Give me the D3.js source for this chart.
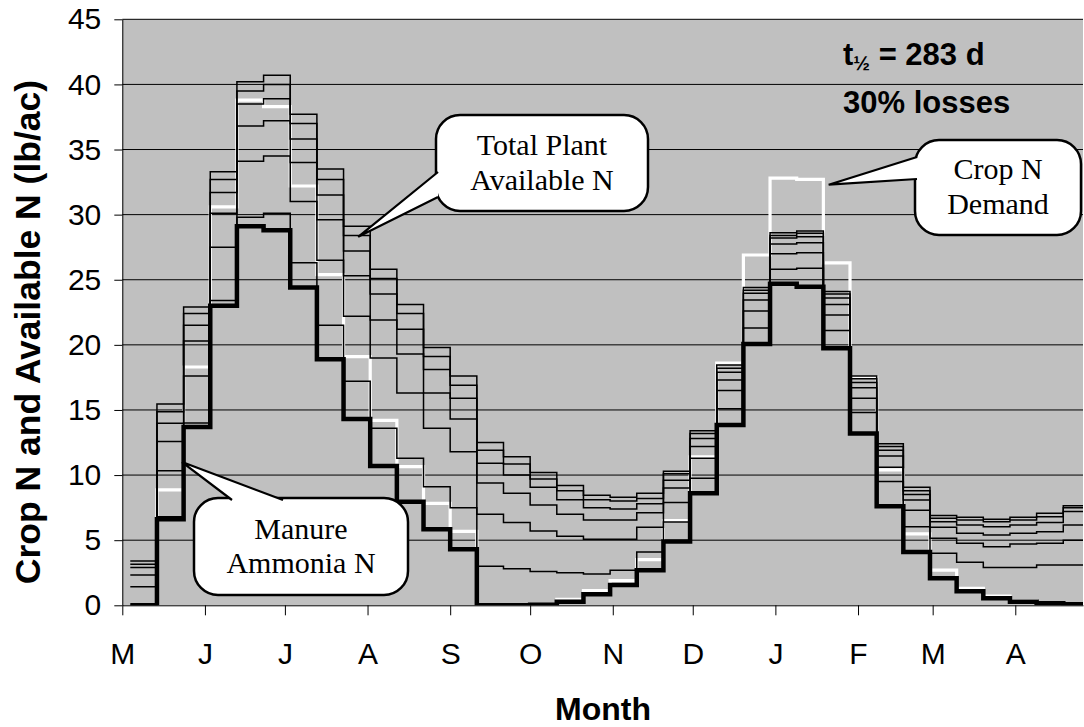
<!DOCTYPE html>
<html>
<head>
<meta charset="utf-8">
<script src="https://cdn.jsdelivr.net/npm/d3@7"></script>
<style>
  body { margin: 0; background: #fff; }
  svg { display: block; font-family: "Liberation Sans", Arial, sans-serif; }
</style>
</head>
<body>
<svg id="chart"></svg>
<script>
// step start day (days after May 1), one value per 10-day period
const stepStartDay = [3, 13, 23, 33, 43, 53, 63, 73, 83, 93, 103, 113, 123, 133, 143, 153, 163, 173,
  183, 193, 203, 213, 223, 233, 243, 253, 263, 273, 283, 293, 303, 313, 323, 333, 343, 353]
const stepEndDay = 363

const monthLabels = ['M', 'J', 'J', 'A', 'S', 'O', 'N', 'D', 'J', 'F', 'M', 'A']
const monthStartDay = [0, 31, 61, 92, 123, 153, 184, 214, 245, 276, 304, 335]
const yTicks = [0, 5, 10, 15, 20, 25, 30, 35, 40, 45]

// crop N demand (white)
const cropDemand = [0, 8.86, 18.3, 30.6, 38.8, 38.3, 32.2, 25.4, 19.1, 14.2, 10.65, 7.83, 5.68, 0, 0, 0.05,
  0.45, 1.12, 1.9, 3.5, 6.5, 11.4, 18.6, 26.9, 32.8, 32.7, 26.3, 17.5, 10.4, 5.48, 2.7, 1.3, 0.7, 0.37, 0.2, 0.1]

// manure ammonia N (thick black)
const ammoniaN = [0, 6.6, 13.7, 23.0, 29.1, 28.8, 24.4, 18.9, 14.3, 10.7, 7.96, 5.84, 4.3, 0, 0, 0.05,
  0.28, 0.85, 1.56, 2.7, 4.9, 8.6, 13.85, 20.07, 24.7, 24.47, 19.74, 13.2, 7.6, 4.1, 2.07, 1.08, 0.54, 0.28, 0.15, 0.08]

// total plant available N, one thin line per year of application
const panYear1 = [0, 6.8, 14.0, 23.4, 29.8, 30.1, 26.3, 21.5, 17.2, 13.6, 11.3, 9.1, 7.5, 3.0, 2.8, 2.6,
  2.5, 2.4, 2.7, 4.1, 6.4, 9.75, 15.1, 21.3, 25.8, 25.88, 21.1, 14.8, 9.5, 6.04, 3.99, 3.3, 2.9, 2.9, 3.1, 3.1]
const panYear2 = [1.43, 10.34, 17.6, 27.5, 34.1, 34.5, 31.0, 26.5, 22.2, 19.0, 16.3, 13.6, 11.8, 7.0, 6.35, 5.7,
  5.3, 5.07, 5.07, 6.0, 7.9, 11.3, 16.5, 22.6, 27.0, 27.08, 22.3, 15.9, 10.6, 7.3, 5.14, 4.76, 4.5, 4.7, 4.76, 5.0]
const panYear3 = [2.33, 12.57, 20.3, 30.1, 36.8, 37.2, 34.0, 29.6, 25.3, 21.9, 19.3, 16.3, 14.3, 9.4, 8.6, 7.7,
  7.0, 6.55, 6.55, 7.1, 9.0, 12.2, 17.3, 23.45, 27.75, 27.85, 23.1, 16.7, 11.47, 8.09, 5.99, 5.53, 5.4, 5.53, 5.65, 6.17]
const panYear4 = [2.9, 13.98, 21.5, 31.7, 38.5, 38.9, 35.8, 31.5, 27.2, 23.9, 21.2, 18.1, 15.9, 10.9, 10.0, 9.06,
  8.1, 7.5, 7.4, 7.8, 9.6, 12.8, 17.9, 23.96, 28.2, 28.3, 23.6, 17.1, 11.9, 8.5, 6.42, 6.17, 6.04, 6.17, 6.35, 7.2]
const panYear5 = [3.15, 14.87, 22.4, 32.7, 39.5, 40.0, 37.0, 32.7, 28.4, 25.1, 22.4, 19.1, 16.9, 11.9, 10.85, 9.7,
  8.8, 8.1, 8.0, 8.2, 10.1, 13.2, 18.2, 24.2, 28.4, 28.57, 23.9, 17.4, 12.2, 8.8, 6.68, 6.55, 6.42, 6.55, 6.8, 7.5]
const panYear6 = [3.4, 15.46, 22.9, 33.3, 40.2, 40.7, 37.7, 33.5, 29.1, 25.8, 23.1, 19.8, 17.6, 12.5, 11.4, 10.2,
  9.2, 8.45, 8.3, 8.6, 10.3, 13.4, 18.46, 24.4, 28.6, 28.75, 24.1, 17.6, 12.4, 9.06, 6.9, 6.76, 6.6, 6.76, 7.07, 7.65]

const W = 1084, H = 727
const m = { left: 122.3, right: 1083, top: 19.3, bottom: 605.3 }
const SANS = '"Liberation Sans", Arial, sans-serif'
const SERIF = '"Liberation Serif", "Times New Roman", serif'

const svg = d3.select('#chart').attr('width', W).attr('height', H)

const x = d3.scaleLinear().domain([0, 360.4]).range([m.left, m.right])
const y = d3.scaleLinear().domain([0, 45]).range([m.bottom, m.top])

// plot background
svg.append('rect')
  .attr('x', m.left).attr('y', m.top)
  .attr('width', m.right - m.left).attr('height', m.bottom - m.top)
  .attr('fill', '#c0c0c0')

// gridlines
svg.append('g')
  .selectAll('line')
  .data(yTicks.filter(d => d > 0))
  .enter().append('line')
  .attr('x1', m.left).attr('x2', m.right)
  .attr('y1', d => y(d)).attr('y2', d => y(d))
  .attr('stroke', '#000').attr('stroke-width', 1)

svg.append('clipPath').attr('id', 'plot-clip')
  .append('rect')
  .attr('x', m.left).attr('y', m.top - 5)
  .attr('width', m.right - m.left).attr('height', m.bottom - m.top + 5)

const stepLine = d3.line()
  .x(d => x(d[0]))
  .y(d => y(d[1]))
  .curve(d3.curveStepAfter)

const toPoints = vals => {
  const pts = vals.map((v, i) => [stepStartDay[i], v])
  pts.push([stepEndDay, vals[vals.length - 1]])
  return pts
}

const lines = svg.append('g').attr('clip-path', 'url(#plot-clip)')

lines.append('path')
  .datum(toPoints(cropDemand))
  .attr('d', stepLine)
  .attr('fill', 'none')
  .attr('stroke', '#fff')
  .attr('stroke-width', 3.2)

const yearSeries = [panYear1, panYear2, panYear3, panYear4, panYear5, panYear6]
lines.selectAll('.pan')
  .data(yearSeries)
  .enter().append('path')
  .attr('class', 'pan')
  .attr('d', d => stepLine(toPoints(d)))
  .attr('fill', 'none')
  .attr('stroke', '#000')
  .attr('stroke-width', 1.5)

lines.append('path')
  .datum(toPoints(ammoniaN))
  .attr('d', stepLine)
  .attr('fill', 'none')
  .attr('stroke', '#000')
  .attr('stroke-width', 4.5)

// axes
const yAxis = d3.axisLeft(y)
  .tickValues(yTicks)
  .tickSize(8)
  .tickSizeOuter(0)
  .tickPadding(13)
  .tickFormat(d3.format('d'))

const gy = svg.append('g')
  .attr('transform', `translate(${m.left},0)`)
  .call(yAxis)
gy.selectAll('text').attr('font-size', 30).style('font-family', SANS).attr('fill', '#000')
gy.selectAll('line, path').attr('stroke', '#000').attr('stroke-width', 1)

const xAxis = d3.axisBottom(x)
  .tickValues(monthStartDay)
  .tickSize(10)
  .tickSizeOuter(0)
  .tickPadding(27)
  .tickFormat((d, i) => monthLabels[i])

const gx = svg.append('g')
  .attr('transform', `translate(0,${m.bottom})`)
  .call(xAxis)
gx.selectAll('text').attr('font-size', 30).style('font-family', SANS).attr('fill', '#000')
gx.selectAll('line, path').attr('stroke', '#000').attr('stroke-width', 1)

// axis titles
svg.append('text')
  .attr('x', 603).attr('y', 720)
  .attr('text-anchor', 'middle')
  .attr('font-size', 32).attr('font-weight', 'bold')
  .text('Month')

svg.append('text')
  .attr('transform', 'translate(40,332) rotate(-90)')
  .attr('text-anchor', 'middle')
  .attr('font-size', 35.5).attr('font-weight', 'bold')
  .text('Crop N and Available N (lb/ac)')

// half-life / loss note
const note = svg.append('text')
  .attr('x', 843).attr('y', 65)
  .attr('font-size', 31).attr('font-weight', 'bold')
note.append('tspan').text('t')
note.append('tspan').attr('font-size', 20).attr('dy', 5).text('½')
note.append('tspan').attr('dy', -5).text(' = 283 d')

svg.append('text')
  .attr('x', 843).attr('y', 113)
  .attr('font-size', 31).attr('font-weight', 'bold')
  .text('30% losses')

// callouts
function callout(box, base, tip, label) {
  const g = svg.append('g')
  g.append('rect')
    .attr('x', box.x).attr('y', box.y)
    .attr('width', box.w).attr('height', box.h)
    .attr('rx', 24).attr('ry', 24)
    .attr('fill', '#fff').attr('stroke', '#000').attr('stroke-width', 2.5)
  g.append('path')
    .attr('d', `M${base[0][0]},${base[0][1]}L${tip[0]},${tip[1]}L${base[1][0]},${base[1][1]}`)
    .attr('fill', '#fff').attr('stroke', '#000').attr('stroke-width', 2.2)
    .attr('stroke-linejoin', 'miter')
  g.selectAll('.lbl')
    .data(label.lines)
    .enter().append('text')
    .attr('x', box.x + box.w / 2)
    .attr('y', (d, i) => label.y0 + i * label.dy)
    .attr('text-anchor', 'middle')
    .style('font-family', SERIF)
    .attr('font-size', 30)
    .text(d => d)
}

callout({ x: 436, y: 115, w: 212, h: 96 },
  [[438, 172], [438, 197]], [x(88.5), y(28.3)],
  { lines: ['Total Plant', 'Available N'], y0: 155, dy: 35 })

callout({ x: 915, y: 140, w: 166, h: 95 },
  [[917, 157], [917, 179]], [x(265), y(32.3)],
  { lines: ['Crop N', 'Demand'], y0: 179, dy: 35 })

callout({ x: 194, y: 498, w: 214, h: 97 },
  [[232, 500], [283, 500]], [x(22.4), y(11)],
  { lines: ['Manure', 'Ammonia N'], y0: 539, dy: 34 })
</script>
</body>
</html>
